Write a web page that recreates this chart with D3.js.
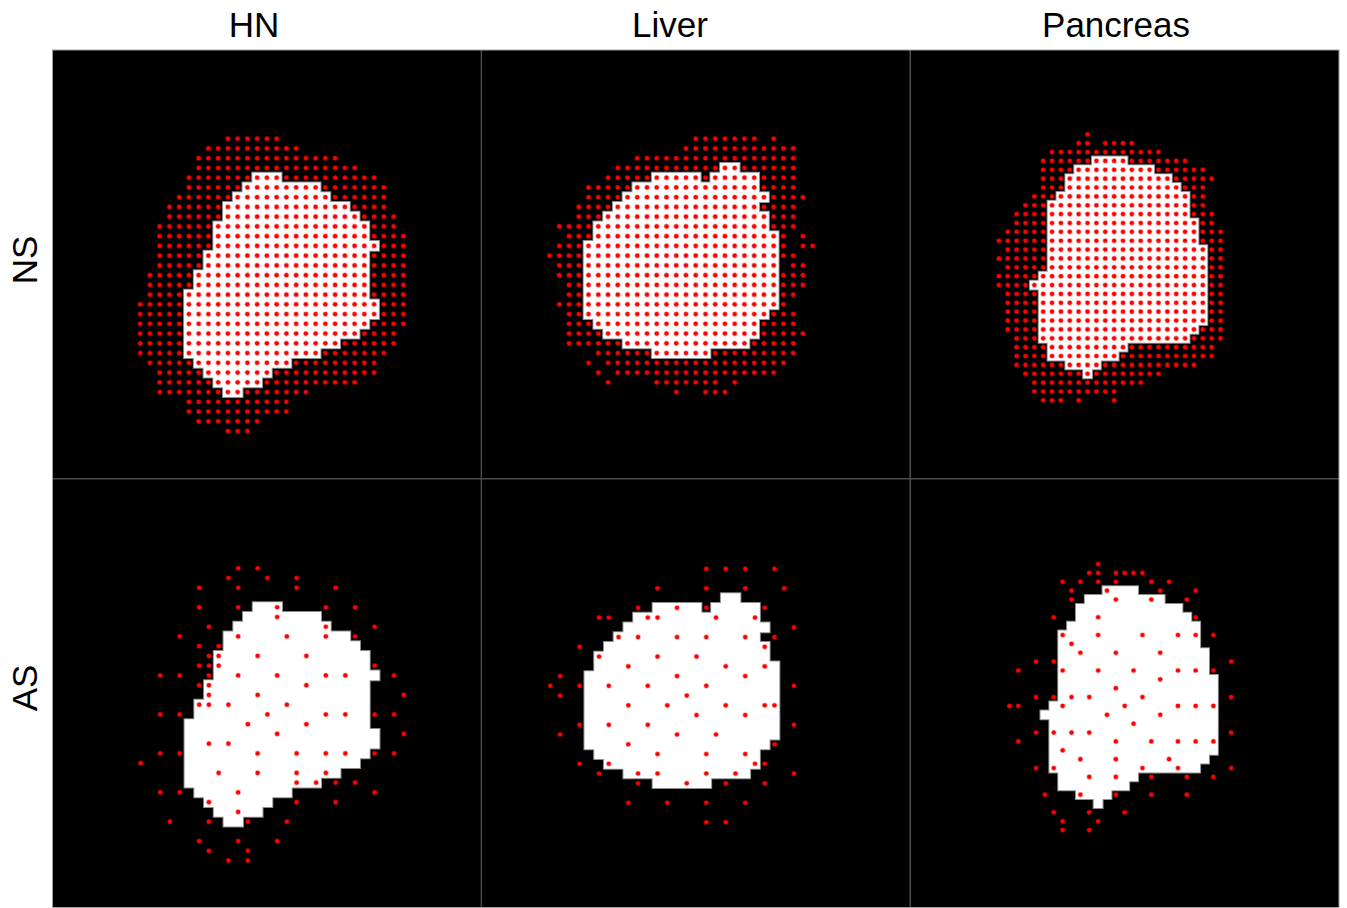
<!DOCTYPE html>
<html lang="en">
<head>
<meta charset="UTF-8">
<title>NS vs AS sampling grids</title>
<script src="https://cdn.jsdelivr.net/npm/d3@7"></script>
<style>
  body { margin: 0; background: #fff; }
  text { font-family: "Liberation Sans", Arial, sans-serif; fill: #000; }
</style>
</head>
<body>
<script>
// ---- data (grid units: u = column, v = row) ----
const organs = ["HN", "Liver", "Pancreas"];
const schemes = ["NS", "AS"];

// target masks: [row, firstCol, lastCol]
const hnMask = [[13,21,23],[14,20,27],[15,19,28],[16,18,30],[17,18,31],[18,17,32],[19,17,32],[20,17,33],
  [21,16,32],[22,16,32],[23,15,32],[24,15,32],[25,14,32],[26,14,33],[27,14,33],[28,14,32],[29,14,31],
  [30,14,29],[31,14,27],[32,15,24],[33,16,22],[34,17,21],[35,18,19]];
const liverMask = [[12,25,26],[13,18,22],[13,24,28],[14,16,28],[15,15,29],[16,14,28],[17,13,29],[18,12,29],
  [19,12,30],[20,11,30],[21,11,30],[22,11,30],[23,11,30],[24,11,30],[25,11,30],[26,11,30],[27,11,29],
  [28,12,28],[29,13,28],[30,15,27],[31,18,23]];
const pancreasMask = [[12,21,24],[13,19,27],[14,18,29],[15,18,30],[16,17,31],[17,16,31],[18,16,31],[19,16,32],
  [20,16,32],[21,16,32],[22,16,33],[23,16,33],[24,16,33],[25,15,33],[26,14,33],[27,15,33],[28,15,33],
  [29,15,33],[30,15,33],[31,15,32],[32,15,31],[33,16,24],[34,16,23],[35,18,21],[36,20,20]];

// NS spots: runs of a full grid, [row, firstCol, lastCol]
const hnNsSpots = [[9,18,23],[10,16,25],[11,15,29],[12,15,31],[13,14,33],[14,14,34],[15,13,34],[16,12,34],
  [17,12,35],[18,11,35],[19,11,36],[20,11,36],[21,11,36],[22,11,36],[23,10,36],[24,10,36],[25,10,36],
  [26,9,36],[27,9,36],[28,9,36],[29,9,35],[30,9,35],[31,9,34],[32,10,33],[33,11,33],[34,11,31],
  [35,11,26],[36,14,24],[37,14,24],[38,15,21],[39,18,20]];
const liverNsSpots = [[9,22,28],[9,30,30],[10,21,32],[11,16,32],[12,14,32],[13,13,32],[14,11,32],[15,11,33],
  [16,10,32],[17,10,32],[18,8,32],[19,9,31],[19,33,33],[20,8,31],[20,33,34],[21,7,32],[22,8,30],[22,32,33],
  [23,8,33],[24,9,33],[25,9,32],[26,8,31],[27,9,32],[28,9,32],[29,9,33],[30,9,32],[31,12,32],
  [32,11,11],[32,13,31],[33,12,12],[33,14,30],[34,13,13],[34,18,24],[34,26,26],[35,20,20],[35,23,25]];
const pancreasNsSpots = [[9,20,20],[10,19,20],[10,22,25],[11,16,28],[12,15,31],[13,15,33],[14,15,34],
  [15,15,33],[16,14,33],[17,13,33],[18,12,34],[19,12,34],[20,11,35],[21,10,35],[22,11,35],[23,10,35],
  [24,11,35],[25,10,35],[26,10,35],[27,11,35],[28,11,35],[29,11,35],[30,11,35],[31,11,35],[32,12,35],
  [33,12,34],[34,12,34],[35,12,32],[36,13,28],[37,14,26],[38,14,23],[39,15,17],[39,19,19],[39,23,23]];

// AS spots: [col, row]
const hnAsSpots = [[19,9],[21,9],[18,10],[22,10],[25,10],[15,11],[19,11],[25,11],[29,11],[15,13],[19,13],
  [23,13],[28,13],[31,13],[23,14],[16,15],[28,15],[33,15],[13,16],[19,16],[24,16],[28,16],[31,16],[15,17],
  [17,17],[16,18],[17,18],[21,18],[26,18],[15,19],[16,19],[17,19],[33,19],[11,20],[13,20],[16,20],[19,20],
  [23,20],[28,20],[30,20],[35,20],[15,21],[16,21],[26,21],[16,22],[21,22],[36,22],[15,23],[16,23],[18,23],
  [24,23],[11,24],[13,24],[22,24],[28,24],[30,24],[33,24],[35,24],[20,25],[26,25],[23,26],[36,26],[16,27],
  [18,27],[11,28],[13,28],[21,28],[25,28],[28,28],[30,28],[33,28],[35,28],[9,29],[17,30],[21,30],[25,30],
  [28,30],[25,31],[27,31],[29,31],[31,31],[11,32],[13,32],[19,32],[33,32],[16,33],[25,33],[29,33],[19,34],
  [12,35],[16,35],[20,35],[24,35],[15,37],[19,37],[23,37],[16,38],[20,38],[18,39],[20,39]];
const liverAsSpots = [[23,9],[25,9],[27,9],[30,9],[18,11],[23,11],[27,11],[31,11],[16,13],[20,13],[23,13],
  [29,13],[12,14],[13,14],[17,14],[18,14],[24,14],[28,14],[32,15],[14,16],[16,16],[20,16],[23,16],[27,16],
  [30,16],[10,17],[29,17],[12,18],[18,18],[22,18],[15,19],[25,19],[29,19],[8,20],[20,20],[27,20],[7,21],
  [10,21],[13,21],[17,21],[23,21],[32,21],[8,22],[21,22],[15,23],[19,23],[25,23],[29,23],[30,23],[22,24],
  [27,24],[10,25],[13,25],[17,25],[32,25],[8,26],[20,26],[24,26],[15,27],[30,27],[18,28],[23,28],[27,28],
  [10,29],[13,29],[28,29],[29,29],[12,30],[16,30],[18,30],[23,30],[26,30],[32,30],[16,31],[21,31],[25,31],
  [29,31],[15,33],[19,33],[23,33],[27,33],[23,35],[25,35]];
const pancreasAsSpots = [[20,9],[19,10],[20,10],[22,10],[23,10],[24,10],[25,10],[16,11],[18,11],[20,11],
  [22,11],[26,11],[28,11],[17,12],[21,12],[27,12],[31,12],[17,13],[22,13],[26,13],[30,13],[15,15],[20,15],
  [31,15],[16,17],[20,17],[25,17],[29,17],[31,17],[33,17],[17,18],[18,19],[22,19],[27,19],[13,20],[15,20],
  [35,20],[11,21],[16,21],[20,21],[24,21],[29,21],[31,21],[33,21],[27,22],[22,23],[13,24],[15,24],[17,24],
  [19,24],[25,24],[35,24],[10,25],[11,25],[16,25],[23,25],[29,25],[31,25],[33,25],[21,26],[27,26],[24,27],
  [13,28],[15,28],[17,28],[19,28],[35,28],[11,29],[22,29],[26,29],[29,29],[31,29],[33,29],[16,30],[18,31],
  [22,31],[28,31],[13,32],[15,32],[25,32],[29,32],[35,32],[19,33],[22,33],[26,33],[30,33],[33,33],[14,35],
  [18,35],[22,35],[26,35],[30,35],[15,37],[19,37],[23,37],[16,38],[20,38],[16,39],[19,39]];

const masks = { HN: hnMask, Liver: liverMask, Pancreas: pancreasMask };
const spots = {
  NS: { HN: hnNsSpots, Liver: liverNsSpots, Pancreas: pancreasNsSpots },
  AS: { HN: hnAsSpots, Liver: liverAsSpots, Pancreas: pancreasAsSpots }
};

// ---- layout ----
const width = 1347, height = 908;
const cellPx = { HN: 9.745, Liver: 9.745, Pancreas: 8.868 };
// grid origin shift inside each panel, px
const shift = {
  "HN-NS": [0, 1], "HN-AS": [0.5, 1.8],
  "Liver-NS": [0, 1], "Liver-AS": [0.8, 2.4],
  "Pancreas-NS": [0, 4.5], "Pancreas-AS": [10.6, 5.5]
};
const colLabelX = [254, 670, 1116];
const rowLabelY = [260, 688];

const svg = d3.select("body").append("svg")
  .attr("width", width)
  .attr("height", height);

svg.append("rect").attr("width", width).attr("height", height).attr("fill", "#fff");

const col = d3.scaleBand().domain(organs).range([52.5, 1339]);
const row = d3.scaleBand().domain(schemes).range([50, 907.5]);
const size = col.bandwidth();

const defs = svg.append("defs");

schemes.forEach(function(scheme) {
  organs.forEach(function(organ) {
    const px = col(organ), py = row(scheme);
    const step = cellPx[organ];
    const off = shift[organ + "-" + scheme];
    const n = size / step;
    const x = d3.scaleLinear().domain([0, n]).range([px + off[0], px + off[0] + size]);
    const y = d3.scaleLinear().domain([0, n]).range([py + off[1], py + off[1] + size]);

    const id = "clip-" + organ + "-" + scheme;
    defs.append("clipPath").attr("id", id)
      .append("rect").attr("x", px).attr("y", py).attr("width", size).attr("height", size);

    const g = svg.append("g").attr("clip-path", "url(#" + id + ")");
    g.append("rect")
      .attr("x", px).attr("y", py)
      .attr("width", size).attr("height", size)
      .attr("fill", "#000");

    // mask as one path so neighbouring cells don't leave seams
    const p = d3.path();
    masks[organ].forEach(function(r) {
      const v = r[0], a = r[1], b = r[2];
      p.rect(x(a - 0.5), y(v - 0.5), x(b + 0.5) - x(a - 0.5), y(v + 0.5) - y(v - 0.5));
    });
    g.append("path").attr("d", p.toString())
      .attr("fill", "none").attr("stroke", "#8c8c8c").attr("stroke-width", 2);
    g.append("path").attr("d", p.toString())
      .attr("fill", "#fff");

    let pts;
    if (scheme === "NS") {
      pts = [];
      spots.NS[organ].forEach(function(r) {
        d3.range(r[1], r[2] + 1).forEach(u => pts.push([u, r[0]]));
      });
    } else {
      pts = spots.AS[organ];
    }

    // soft halo then solid core, like the resampled markers
    g.selectAll("circle.halo")
      .data(pts)
      .enter()
      .append("circle")
      .attr("class", "halo")
      .attr("cx", d => x(d[0]))
      .attr("cy", d => y(d[1]))
      .attr("r", 2.8)
      .attr("fill", "#ff0000")
      .attr("opacity", 0.35);

    g.selectAll("circle.spot")
      .data(pts)
      .enter()
      .append("circle")
      .attr("class", "spot")
      .attr("cx", d => x(d[0]))
      .attr("cy", d => y(d[1]))
      .attr("r", 2.1)
      .attr("fill", "#ff0000");
  });
});

// panel separators and frame
const lines = svg.append("g").attr("stroke", "#4d4d4d").attr("stroke-width", 1.3);
organs.slice(1).forEach(function(o) {
  lines.append("line").attr("x1", col(o)).attr("x2", col(o)).attr("y1", 50).attr("y2", 907.5);
});
schemes.slice(1).forEach(function(s) {
  lines.append("line").attr("x1", 52.5).attr("x2", 1339).attr("y1", row(s)).attr("y2", row(s));
});
svg.append("rect")
  .attr("x", 52.5).attr("y", 50)
  .attr("width", 1339 - 52.5).attr("height", 907.5 - 50)
  .attr("fill", "none").attr("stroke", "#a0a0a0").attr("stroke-width", 1);

// labels
svg.selectAll("text.col")
  .data(organs)
  .enter()
  .append("text")
  .attr("class", "col")
  .attr("x", (d, i) => colLabelX[i])
  .attr("y", 37)
  .attr("text-anchor", "middle")
  .style("font-size", "35px")
  .text(d => d);

svg.selectAll("text.row")
  .data(schemes)
  .enter()
  .append("text")
  .attr("class", "row")
  .attr("transform", (d, i) => "translate(37," + rowLabelY[i] + ") rotate(-90)")
  .attr("text-anchor", "middle")
  .style("font-size", "35px")
  .text(d => d);
</script>
</body>
</html>
